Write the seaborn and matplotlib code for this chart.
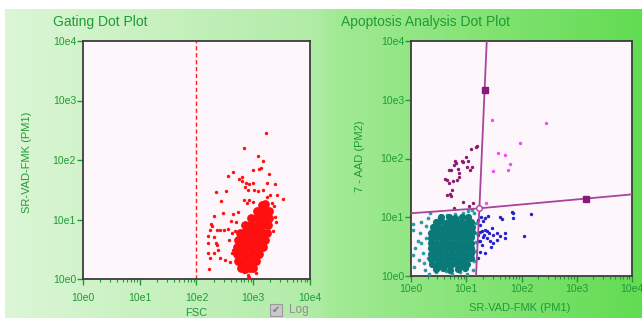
import numpy as np
import pandas as pd
import matplotlib
matplotlib.use("Agg")
import matplotlib.pyplot as plt
import seaborn as sns
from matplotlib.ticker import FixedLocator, FixedFormatter, LogLocator, NullLocator, NullFormatter
from matplotlib.patches import Rectangle

sns.set_theme(style="white")
plt.rcParams['font.family'] = ['Liberation Sans', 'DejaVu Sans']

# ---------------- data (log10 values) ----------------
tick_values = [1, 10, 100, 1000, 10000]
tick_labels = ["10e0", "10e1", "10e2", "10e3", "10e4"]
gate_threshold = 100

# Gating dot plot: sparse events (log10 FSC, log10 SR-VAD-FMK)
gate_sparse_lx = [3.09, 3.18, 2.99, 3.11, 3.13, 3.28, 2.64, 2.56, 2.75, 2.81, 2.81, 2.88, 2.86, 2.93, 2.99,
                  3.24, 3.38, 2.52, 2.90, 3.02, 3.08, 3.17, 3.30, 3.42, 3.52, 2.44, 2.83, 2.89, 2.93, 3.00,
                  3.24, 3.33, 3.36, 2.74, 2.65, 2.46, 2.30, 2.25, 2.24, 2.36, 2.42, 2.48, 2.55, 2.67, 2.21,
                  2.30, 2.27, 2.21, 2.35, 2.36, 2.38, 2.21, 2.30, 2.23, 2.41, 2.50, 2.59, 2.65, 2.62, 2.57,
                  2.62, 2.22, 2.83, 2.90, 2.92, 2.91, 3.22, 2.83, 2.35, 3.40, 3.38, 2.70, 3.35, 3.05, 2.60]
gate_sparse_ly = [2.07, 1.99, 1.84, 1.85, 1.87, 1.76, 1.80, 1.73, 1.68, 1.71, 1.65, 1.61, 1.55, 1.60, 1.61,
                  1.62, 1.60, 1.48, 1.50, 1.50, 1.48, 1.50, 1.41, 1.41, 1.34, 1.31, 1.33, 1.28, 1.33, 1.30,
                  1.37, 1.28, 1.22, 1.13, 1.10, 1.11, 1.06, 0.92, 0.83, 0.83, 0.83, 0.82, 0.84, 0.81, 0.72,
                  0.70, 0.89, 0.60, 0.60, 0.57, 0.49, 0.43, 0.43, 0.35, 0.36, 0.32, 0.29, 0.49, 0.43, 0.66,
                  0.77, 0.16, 0.12, 0.02, 0.04, 0.07, 2.46, 2.20, 1.47, 0.95, 1.05, 0.95, 0.80, 0.10, 0.98]
# Gating dot plot: dense core of events
gate_core_lx = [2.78, 2.86, 2.94, 3.00,
                2.73, 2.81, 2.89, 2.97, 3.05,
                2.72, 2.80, 2.88, 2.96, 3.04, 3.11,
                2.72, 2.80, 2.88, 2.96, 3.04, 3.12, 3.17,
                2.74, 2.82, 2.90, 2.98, 3.06, 3.14, 3.21,
                2.77, 2.85, 2.93, 3.01, 3.09, 3.17, 3.24,
                2.86, 2.94, 3.02, 3.10, 3.18, 3.26,
                2.96, 3.04, 3.12, 3.20, 3.28,
                3.06, 3.14, 3.22, 3.28,
                3.15, 3.21]
gate_core_ly = [0.18, 0.17, 0.19, 0.18,
                0.30, 0.31, 0.29, 0.30, 0.31,
                0.42, 0.43, 0.41, 0.42, 0.43, 0.42,
                0.54, 0.55, 0.53, 0.54, 0.55, 0.54, 0.53,
                0.66, 0.67, 0.65, 0.66, 0.67, 0.66, 0.65,
                0.78, 0.79, 0.77, 0.78, 0.79, 0.78, 0.77,
                0.90, 0.91, 0.89, 0.90, 0.91, 0.90,
                1.02, 1.03, 1.01, 1.02, 1.03,
                1.14, 1.15, 1.13, 1.14,
                1.25, 1.26]

# Apoptosis analysis: live cells (teal), dense core and sparse edge
live_core_lx = [0.45, 0.58, 0.70, 0.85, 0.98,
                0.38, 0.48, 0.57, 0.66, 0.75, 0.84, 0.93, 1.02,
                0.36, 0.45, 0.54, 0.63, 0.72, 0.81, 0.90, 0.99, 1.08,
                0.37, 0.46, 0.55, 0.64, 0.73, 0.82, 0.91, 1.00, 1.09,
                0.36, 0.45, 0.54, 0.63, 0.72, 0.81, 0.90, 0.99, 1.08,
                0.37, 0.46, 0.55, 0.64, 0.73, 0.82, 0.91, 1.00, 1.09,
                0.36, 0.45, 0.54, 0.63, 0.72, 0.81, 0.90, 0.99, 1.09,
                0.37, 0.46, 0.55, 0.64, 0.73, 0.82, 0.91, 1.00, 1.10,
                0.40, 0.49, 0.58, 0.67, 0.76, 0.85, 0.94, 1.03, 1.11,
                0.45, 0.54, 0.63, 0.72, 0.81, 0.90, 0.99, 1.08,
                0.55, 0.68, 0.80, 0.92, 1.04]
live_core_ly = [0.12, 0.13, 0.11, 0.12, 0.13,
                0.20, 0.21, 0.19, 0.20, 0.21, 0.20, 0.19, 0.20,
                0.29, 0.30, 0.28, 0.29, 0.30, 0.29, 0.28, 0.29, 0.30,
                0.38, 0.39, 0.37, 0.38, 0.39, 0.38, 0.37, 0.38, 0.39,
                0.47, 0.48, 0.46, 0.47, 0.48, 0.47, 0.46, 0.47, 0.48,
                0.56, 0.57, 0.55, 0.56, 0.57, 0.56, 0.55, 0.56, 0.57,
                0.65, 0.66, 0.64, 0.65, 0.66, 0.65, 0.64, 0.65, 0.66,
                0.74, 0.75, 0.73, 0.74, 0.75, 0.74, 0.73, 0.74, 0.75,
                0.83, 0.84, 0.82, 0.83, 0.84, 0.83, 0.82, 0.83, 0.84,
                0.92, 0.93, 0.91, 0.92, 0.93, 0.92, 0.91, 0.92,
                1.00, 1.01, 0.99, 1.00, 1.01]
live_sparse_lx = [0.03, 0.04, 0.07, 0.05, 0.04, 0.19, 0.17, 0.18, 0.21, 0.23, 0.25, 0.34, 1.10, 1.14, 1.04,
                  0.46, 0.63, 0.88, 1.12, 1.18, 1.16, 1.14, 0.28, 0.30, 0.27, 0.12, 0.95, 0.80, 0.65, 0.50,
                  0.30, 0.14, 1.17, 1.18, 0.33, 0.75, 1.02]
live_sparse_ly = [0.88, 0.78, 0.47, 0.16, 0.36, 0.92, 0.73, 0.56, 0.39, 0.22, 0.11, 1.07, 1.12, 1.07, 1.10,
                  0.07, 0.09, 0.07, 0.10, 0.73, 0.43, 0.26, 0.65, 0.30, 0.85, 0.60, 1.08, 1.06, 1.04, 0.98,
                  0.98, 0.28, 0.90, 0.58, 0.04, 0.03, 0.03]

# Early apoptotic (blue)
early_lx = [1.40, 1.34, 1.30, 1.25, 1.24, 1.28, 1.34, 1.38, 1.42, 1.46, 1.49, 1.55, 1.61, 1.64, 1.61,
            1.55, 1.49, 1.43, 1.37, 1.31, 1.25, 1.24, 1.34, 1.28, 1.70, 1.70, 1.82, 1.85, 2.17, 2.05,
            1.22, 1.23, 1.32, 1.84, 1.22, 1.26, 1.21, 1.45]
early_ly = [1.02, 0.98, 0.93, 0.87, 0.75, 0.77, 0.79, 0.76, 0.73, 0.82, 0.70, 0.74, 1.01, 0.97, 0.68,
            0.62, 0.56, 0.59, 0.64, 0.66, 0.59, 0.41, 0.39, 0.53, 0.73, 0.64, 1.09, 0.98, 1.05, 0.68,
            0.69, 0.60, 0.70, 1.08, 0.30, 1.00, 0.95, 0.50]

# Necrotic (dark purple)
necro_lx = [1.18, 1.20, 1.09, 0.99, 0.92, 0.95, 1.03, 0.80, 0.78, 0.82, 1.01, 1.06, 1.10, 0.85, 0.69,
            0.72, 0.87, 0.65, 0.69, 0.76, 0.84, 0.86, 0.74, 0.71, 0.65, 0.72, 0.95, 1.05, 1.12, 0.77, 0.62]
necro_ly = [2.20, 2.21, 2.16, 2.03, 1.95, 1.94, 1.95, 1.95, 1.89, 1.92, 1.85, 1.80, 1.85, 1.82, 1.80,
            1.80, 1.76, 1.63, 1.59, 1.61, 1.63, 1.68, 1.46, 1.40, 1.38, 1.36, 1.26, 1.19, 1.25, 1.15, 1.65]

# Late apoptotic (magenta)
late_lx = [1.47, 2.44, 1.97, 1.58, 1.71, 1.79, 1.48, 1.75, 1.36]
late_ly = [2.66, 2.60, 2.27, 2.09, 2.06, 1.90, 1.78, 1.80, 1.25]

# Quadrant gate (data units)
quad_v_x = [15.0, 17.3, 23.5]
quad_v_y = [1, 14.2, 10000]
quad_h_x = [1, 17.3, 10000]
quad_h_y = [11.7, 14.2, 24.5]
quad_handle_x = [21.4, 1480]
quad_handle_y = [1466, 20.5]
quad_center_x = [17.3]
quad_center_y = [14.2]

# ---------------- styling ----------------
GREEN = '#1f9a35'
W, H = 642, 320

fig = plt.figure(figsize=(6.42, 3.2), dpi=100)
fig.patch.set_facecolor('white')

# background gradient panel
bg = fig.add_axes([5 / W, 2 / H, (W - 5) / W, 309 / H], zorder=-10)
pos = [0.0, 0.48, 0.52, 1.0]
cols = np.array([[0xdc, 0xf6, 0xd6], [0xb2, 0xec, 0xa8], [0xa2, 0xea, 0x94], [0x62, 0xdc, 0x52]]) / 255.0
xs = np.linspace(0, 1, 400)
grad = np.stack([np.interp(xs, pos, cols[:, c]) for c in range(3)], axis=-1)
img = np.repeat(grad[np.newaxis, :, :], 10, axis=0)
bg.imshow(img, aspect='auto', extent=[0, 1, 0, 1])
bg.set_axis_off()


def px_axes(left, top, right, bottom):
    return fig.add_axes([left / W, 1 - bottom / H, (right - left) / W, (bottom - top) / H])


def style_axes(ax, xpad, ypad):
    ax.set_xscale('log')
    ax.set_yscale('log')
    ax.set_xlim(1, 10000)
    ax.set_ylim(1, 10000)
    ax.set_facecolor('#fdf6fb')
    ax.xaxis.set_major_locator(FixedLocator(tick_values))
    ax.xaxis.set_major_formatter(FixedFormatter(tick_labels))
    ax.xaxis.set_minor_locator(LogLocator(base=10, subs=np.arange(2, 10)))
    ax.xaxis.set_minor_formatter(NullFormatter())
    ax.yaxis.set_major_locator(FixedLocator(tick_values))
    ax.yaxis.set_major_formatter(FixedFormatter(tick_labels))
    ax.yaxis.set_minor_locator(NullLocator())
    ax.tick_params(axis='x', which='major', direction='out', length=4, width=1.0,
                   color=GREEN, labelcolor=GREEN, labelsize=7.5, pad=xpad, bottom=True)
    ax.tick_params(axis='x', which='minor', direction='out', length=2.5, width=0.8,
                   color=GREEN, bottom=True)
    ax.tick_params(axis='y', which='major', direction='out', length=4, width=1.0,
                   color=GREEN, labelcolor=GREEN, labelsize=7.5, pad=ypad, left=True)
    for s in ax.spines.values():
        s.set_color('#3c3c3c')
        s.set_linewidth(1.3)
        s.set_visible(True)


# ---- Gating dot plot ----
ax1 = px_axes(83, 41, 310, 279)
gate_core = pd.DataFrame({'fsc': 10 ** np.array(gate_core_lx), 'pm1': 10 ** np.array(gate_core_ly)})
gate_sparse = pd.DataFrame({'fsc': 10 ** np.array(gate_sparse_lx), 'pm1': 10 ** np.array(gate_sparse_ly)})
sns.scatterplot(data=gate_core, x='fsc', y='pm1', ax=ax1, color='#ff1010', s=40, linewidth=0,
                legend=False, zorder=3)
sns.scatterplot(data=gate_sparse, x='fsc', y='pm1', ax=ax1, color='#ff1010', s=6, linewidth=0,
                legend=False, zorder=3)
ax1.axvline(gate_threshold, color='#ff2020', lw=1.0, ls=(0, (3, 2)), zorder=2)
style_axes(ax1, xpad=6, ypad=1)
ax1.set_xlabel('FSC', color=GREEN, fontsize=8)
ax1.set_ylabel('SR-VAD-FMK (PM1)', color=GREEN, fontsize=8)
ax1.xaxis.set_label_coords(0.498, -0.122)
ax1.yaxis.set_label_coords(-0.225, 0.49)

# ---- Apoptosis analysis dot plot ----
ax2 = px_axes(411, 41, 632, 276)
live_core = pd.DataFrame({'pm1': 10 ** np.array(live_core_lx), 'pm2': 10 ** np.array(live_core_ly)})
live_sparse = pd.DataFrame({'pm1': 10 ** np.array(live_sparse_lx), 'pm2': 10 ** np.array(live_sparse_ly)})
early = pd.DataFrame({'pm1': 10 ** np.array(early_lx), 'pm2': 10 ** np.array(early_ly)})
necro = pd.DataFrame({'pm1': 10 ** np.array(necro_lx), 'pm2': 10 ** np.array(necro_ly)})
late = pd.DataFrame({'pm1': 10 ** np.array(late_lx), 'pm2': 10 ** np.array(late_ly)})
sns.scatterplot(data=live_sparse, x='pm1', y='pm2', ax=ax2, color='#25a0a0', s=7, linewidth=0,
                legend=False, zorder=3)
sns.scatterplot(data=live_core, x='pm1', y='pm2', ax=ax2, color='#0a7a78', s=27, linewidth=0,
                legend=False, zorder=3)
sns.scatterplot(data=early, x='pm1', y='pm2', ax=ax2, color='#2222cc', s=6, linewidth=0,
                legend=False, zorder=3)
sns.scatterplot(data=necro, x='pm1', y='pm2', ax=ax2, color='#8a1a6c', s=6, linewidth=0,
                legend=False, zorder=3)
sns.scatterplot(data=late, x='pm1', y='pm2', ax=ax2, color='#f04cf0', s=6, linewidth=0,
                legend=False, zorder=3)
ax2.plot(quad_v_x, quad_v_y, color='#a8449c', lw=1.3, zorder=4)
ax2.plot(quad_h_x, quad_h_y, color='#a8449c', lw=1.3, zorder=4)
ax2.plot(quad_handle_x, quad_handle_y, ls='none', marker='s', ms=4.5, color='#8a1a78', zorder=5)
ax2.plot(quad_center_x, quad_center_y, ls='none', marker='o', ms=4, mfc='white', mec='#a8449c',
         mew=1.0, zorder=5)
style_axes(ax2, xpad=1.5, ypad=1)
ax2.set_xlabel('SR-VAD-FMK (PM1)', color=GREEN, fontsize=8)
ax2.set_ylabel('7 - AAD (PM2)', color=GREEN, fontsize=8)
ax2.xaxis.set_label_coords(0.493, -0.115)
ax2.yaxis.set_label_coords(-0.208, 0.51)

# ---- titles ----
fig.text(53 / W, 1 - 22 / H, 'Gating Dot Plot', color=GREEN, fontsize=10, ha='left', va='center')
fig.text(341 / W, 1 - 22 / H, 'Apoptosis Analysis Dot Plot', color=GREEN, fontsize=10,
         ha='left', va='center')

# ---- "Log" checkbox ----
fig.patches.append(Rectangle((270 / W, 1 - 316 / H), 12 / W, 12 / H, transform=fig.transFigure,
                             facecolor='#c8c8c8', edgecolor='#9a9a9a', lw=0.8))
fig.text(276 / W, 1 - 310 / H, '\u2714', color='#7a7a7a', fontsize=7, ha='center', va='center',
         family=['DejaVu Sans'])
fig.text(289 / W, 1 - 310 / H, 'Log', color='#909090', fontsize=8.5, ha='left', va='center')

fig.savefig('out.png', dpi=100, facecolor='white')
